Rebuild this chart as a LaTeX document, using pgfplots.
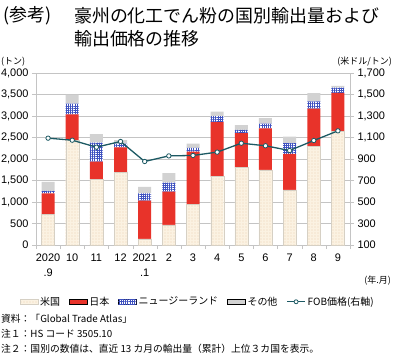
\documentclass[border=0pt]{standalone}
\usepackage{fontspec}
\setmainfont{Noto Sans CJK JP}
\newfontfamily\arial{Liberation Sans}
\usepackage{pgfplots}
\pgfplotsset{compat=1.18}
\usetikzlibrary{patterns.meta}
\definecolor{usfill}{HTML}{FBF2E2}
\definecolor{usdot}{HTML}{D49A5E}
\definecolor{jpred}{HTML}{E8332A}
\definecolor{nzblue}{HTML}{3F52C0}
\definecolor{othgray}{HTML}{D2D2D2}
\definecolor{fob}{HTML}{1C5963}
\definecolor{gridc}{HTML}{C4C4C4}
\begin{document}
\begin{tikzpicture}[x=1bp,y=1bp]
\useasboundingbox (0,0) rectangle (393,-359);
% titles
\node[anchor=west,inner sep=0,font=\fontsize{18}{18}\selectfont] at (3,-16) {(参考)};
\node[anchor=west,inner sep=0,font=\fontsize{18}{18}\selectfont] at (74,-16) {豪州の化工でん粉の国別輸出量および};
\node[anchor=west,inner sep=0,font=\fontsize{18}{18}\selectfont] at (74,-39) {輸出価格の推移};
\node[anchor=west,inner sep=0,font=\fontsize{9}{9}\selectfont] at (1,-62) {(トン)};
\node[anchor=east,inner sep=0,font=\fontsize{9}{9}\selectfont] at (392,-62) {(米ドル/トン)};
\node[anchor=east,inner sep=0,font=\fontsize{9}{9}\selectfont] at (391,-281) {(年.月)};
\begin{axis}[
  at={(36bp,-245bp)}, anchor=south west, scale only axis,
  width=314bp, height=172bp,
  ybar stacked, bar width=13bp,
  xmin=-0.5, xmax=12.5, ymin=0, ymax=4000,
  axis x line*=bottom, axis y line*=left,
  axis line style={gridc},
  xtick={0,...,12},
  xticklabels={{2020\\[2bp].9},10,11,12,{2021\\[2bp].1},2,3,4,5,6,7,8,9},
  xticklabel style={align=center,font=\arial\fontsize{11}{13}\selectfont,yshift=-1bp},
  major x tick style={draw=none},
  minor xtick={-0.5,0.5,...,12.5},
  minor x tick style={gridc},
  ytick={0,500,...,4000},
  ymajorgrids, grid style={gridc},
  tick align=outside, major tick length=4bp, minor tick length=4bp,
  y tick style={gridc},
  yticklabel style={font=\arial\fontsize{11}{11}\selectfont},
  scaled y ticks=false,
  /pgf/number format/.cd, 1000 sep={,}, assume math mode=true,
  /pgfplots/.cd,
  legend columns=5,
  legend style={at={(0.515,-0.33)}, anchor=center, draw=none, fill=none,
    font=\fontsize{10}{10}\selectfont,
    /tikz/every even column/.append style={column sep=7bp},
    inner sep=0pt},
  legend cell align=left,
]
\pgfplotsset{legend image code/.code={\draw[#1] (0bp,-2.5bp) rectangle (18bp,2.5bp);}}
\addplot[fill=usfill, draw=usfill!70!gray, line width=0.3bp,
  postaction={pattern={Dots[distance=3bp,radius=0.45bp]}, pattern color=usdot}]
  coordinates {(0,720) (1,2430) (2,1530) (3,1690) (4,140) (5,470) (6,940) (7,1590) (8,1800) (9,1750) (10,1280) (11,2300) (12,2650)};
\addlegendentry{米国}
\addplot[fill=jpred, draw=none]
  coordinates {(0,480) (1,610) (2,410) (3,580) (4,890) (5,770) (6,1230) (7,1270) (8,800) (9,960) (10,840) (11,870) (12,890)};
\addlegendentry{日本}
\addplot[fill=white, draw=none,
  postaction={pattern={Hatch[distance=2.2bp,line width=0.6bp]}, pattern color=nzblue}]
  coordinates {(0,60) (1,250) (2,440) (3,90) (4,170) (5,210) (6,90) (7,140) (8,80) (9,110) (10,250) (11,170) (12,120)};
\addlegendentry{ニュージーランド}
\addplot[fill=othgray, draw=none]
  coordinates {(0,210) (1,210) (2,200) (3,80) (4,150) (5,220) (6,100) (7,100) (8,110) (9,130) (10,150) (11,190) (12,40)};
\addlegendentry{その他}
\addlegendimage{legend image code/.code={\draw[fob,line width=1.3bp] (0bp,0bp) -- (18bp,0bp); \draw[fob,fill=white,line width=0.8bp] (9bp,0bp) circle (2bp);}}
\addlegendentry{FOB価格(右軸)}
\end{axis}
\begin{axis}[
  at={(36bp,-245bp)}, anchor=south west, scale only axis,
  width=314bp, height=172bp,
  xmin=-0.5, xmax=12.5, ymin=100, ymax=1700,
  axis x line=none, axis y line*=right,
  axis line style={gridc},
  ytick={100,300,...,1700},
  tick align=outside, major tick length=4bp,
  y tick style={gridc},
  yticklabel style={font=\arial\fontsize{11}{11}\selectfont},
  scaled y ticks=false,
  /pgf/number format/.cd, 1000 sep={,}, assume math mode=true,
]
\addplot[fob, line width=1.3bp, mark=*, mark size=2.2bp, mark options={fill=white, draw=fob, line width=0.8bp}]
  coordinates {(0,1094) (1,1075) (2,1010) (3,1063) (4,877) (5,929) (6,933) (7,964) (8,1047) (9,1023) (10,979) (11,1072) (12,1162)};
\end{axis}
% notes
\node[anchor=west,inner sep=0,font=\fontsize{9.8}{10}\selectfont] at (1,-319) {資料：「Global Trade Atlas」};
\node[anchor=west,inner sep=0,font=\fontsize{9.8}{10}\selectfont] at (1,-334) {注１：HS コード 3505.10};
\node[anchor=west,inner sep=0,font=\fontsize{9.8}{10}\selectfont] at (1,-349) {注２：国別の数値は、直近 13 カ月の輸出量（累計）上位３カ国を表示。};
\end{tikzpicture}
\end{document}
